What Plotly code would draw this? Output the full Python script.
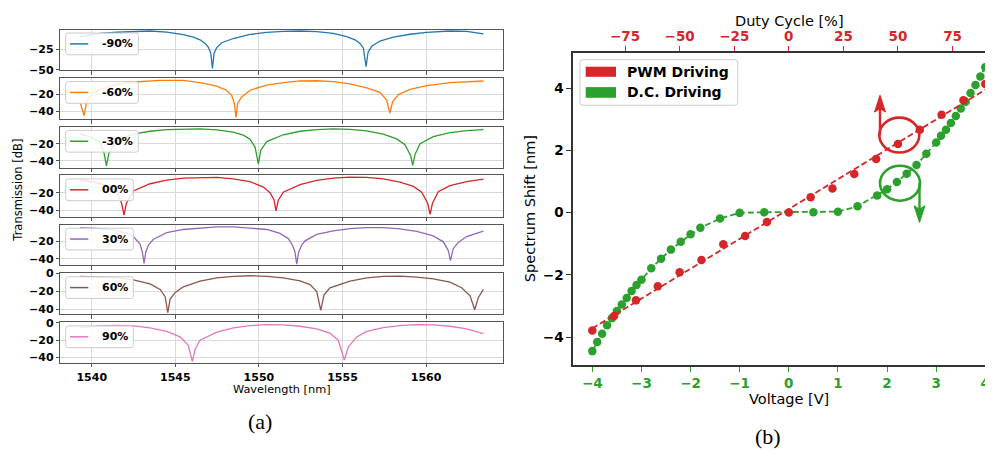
import numpy as np
import plotly.graph_objects as go

# the page body adds an 8 px margin, so the figure is 8 px smaller and all
# reference pixel positions are shifted by 8 px
OFF = 8
W, H = 993 - OFF, 454 - OFF
FONT = "DejaVu Sans"

# ---------------- panel (a): transmission spectra ----------------
labels_a = ["-90%", "-60%", "-30%", "00%", "30%", "60%", "90%"]
colors_a = ["#1f77b4", "#ff7f0e", "#2ca02c", "#d62728", "#9467bd", "#8c564b", "#e377c2"]

wl_m90 = [1539.30, 1540.50, 1541.50, 1542.49, 1543.49, 1544.49, 1545.48, 1546.08, 1546.48, 1546.78,
          1546.98, 1547.12, 1547.22, 1547.32, 1547.48, 1547.78, 1548.47, 1549.47, 1550.47, 1551.46,
          1552.46, 1553.46, 1554.45, 1555.25, 1555.75, 1556.05, 1556.25, 1556.41, 1556.53, 1556.75,
          1557.24, 1558.04, 1559.04, 1560.04, 1561.43, 1562.43, 1563.43]
db_m90 = [-10.0, -6.0, -4.6, -3.5, -3.1, -4.3, -7.4, -10.5, -13.7, -18.0,
          -22.7, -29.7, -48.0, -29.7, -23.0, -17.2, -12.1, -7.2, -4.8, -3.5,
          -3.1, -3.9, -5.9, -9.8, -13.7, -18.0, -23.8, -46.1, -28.5, -21.5,
          -15.2, -10.5, -7.0, -4.7, -3.1, -3.5, -6.6]

wl_m60 = [1539.32, 1539.54, 1539.70, 1540.00, 1540.50, 1541.50, 1542.50, 1544.09, 1545.48, 1546.48,
          1547.48, 1548.07, 1548.37, 1548.53, 1548.63, 1548.73, 1548.97, 1549.47, 1550.47, 1551.46,
          1552.46, 1553.46, 1554.45, 1555.45, 1556.45, 1557.24, 1557.64, 1557.84, 1558.00, 1558.34,
          1559.04, 1560.04, 1561.43, 1562.43, 1563.43]
db_m60 = [-30.0, -45.0, -28.0, -20.0, -14.0, -8.0, -5.0, -3.1, -3.1, -5.8,
          -10.0, -15.0, -20.8, -30.4, -47.3, -30.4, -22.7, -14.8, -8.7, -5.8,
          -3.8, -3.5, -4.6, -7.3, -11.9, -17.3, -26.5, -41.9, -28.5, -20.0,
          -13.8, -9.2, -5.8, -4.6, -3.8]

wl_m30 = [1539.30, 1540.00, 1540.50, 1540.74, 1540.88, 1541.02, 1541.50, 1542.20, 1542.73, 1543.49,
          1544.49, 1545.48, 1546.48, 1547.48, 1548.47, 1549.07, 1549.47, 1549.77, 1549.97, 1550.11,
          1550.47, 1551.46, 1552.46, 1553.46, 1554.45, 1555.45, 1556.45, 1557.44, 1558.24, 1558.74,
          1559.08, 1559.20, 1559.34, 1559.64, 1560.43, 1561.43, 1562.43, 1563.43]
db_m30 = [-8.5, -12.5, -18.0, -31.3, -45.7, -31.3, -17.0, -10.5, -7.9, -5.3,
          -3.4, -2.6, -2.6, -3.8, -6.4, -9.8, -14.7, -23.8, -43.8, -27.5,
          -17.4, -9.4, -5.3, -3.4, -2.6, -3.0, -4.9, -8.7, -14.3, -21.1,
          -34.0, -45.3, -32.5, -20.0, -11.7, -6.8, -4.5, -3.4]

wl_00 = [1539.30, 1540.00, 1540.80, 1541.50, 1541.79, 1541.93, 1542.07, 1542.49, 1543.49, 1544.49,
         1545.48, 1546.48, 1547.48, 1548.47, 1549.47, 1550.27, 1550.67, 1550.91, 1551.02, 1551.16,
         1551.46, 1552.46, 1553.46, 1554.45, 1555.45, 1556.45, 1557.44, 1558.44, 1559.24, 1559.74,
         1560.10, 1560.24, 1560.38, 1560.73, 1561.43, 1562.43, 1563.43]
db_00 = [-5.7, -7.5, -11.0, -18.0, -32.5, -45.7, -32.5, -18.1, -9.8, -5.7,
         -3.4, -2.6, -2.6, -4.2, -7.5, -13.6, -20.0, -28.7, -40.8, -28.7,
         -19.5, -10.8, -6.0, -3.4, -2.3, -2.6, -4.2, -7.9, -12.8, -19.5,
         -32.5, -44.9, -32.5, -19.0, -12.0, -7.5, -4.5]

wl_30 = [1539.30, 1540.50, 1541.50, 1542.09, 1542.49, 1542.89, 1543.03, 1543.13, 1543.23, 1543.39,
         1543.69, 1544.49, 1545.48, 1546.48, 1547.48, 1548.47, 1549.47, 1550.47, 1551.26, 1551.76,
         1552.02, 1552.16, 1552.26, 1552.38, 1552.56, 1552.76, 1553.46, 1554.45, 1555.45, 1556.45,
         1557.44, 1558.44, 1559.44, 1560.43, 1561.03, 1561.33, 1561.46, 1561.62, 1561.92, 1562.43,
         1563.43]
db_30 = [-4.1, -5.2, -7.4, -10.7, -14.4, -23.0, -32.2, -45.2, -32.2, -24.1,
         -17.4, -10.0, -6.3, -4.4, -3.3, -3.3, -4.4, -6.3, -10.7, -16.7,
         -24.8, -32.2, -45.9, -32.2, -24.1, -19.3, -11.9, -7.8, -5.2, -4.1,
         -4.1, -5.6, -8.5, -13.7, -20.4, -30.4, -41.9, -28.5, -21.1, -14.4,
         -8.1]

wl_60 = [1539.30, 1540.50, 1541.50, 1542.49, 1543.49, 1544.09, 1544.39, 1544.55, 1544.69, 1544.98,
         1545.48, 1546.48, 1547.48, 1548.47, 1549.47, 1550.47, 1551.46, 1552.46, 1553.06, 1553.46,
         1553.70, 1553.90, 1554.25, 1555.45, 1556.45, 1557.44, 1558.44, 1559.44, 1560.43, 1561.43,
         1562.13, 1562.63, 1562.91, 1563.13, 1563.43]
db_60 = [-3.2, -3.6, -4.7, -7.2, -11.5, -17.7, -25.9, -43.6, -28.5, -21.3,
         -14.8, -8.6, -5.0, -3.2, -2.5, -3.2, -5.0, -8.3, -12.3, -20.2,
         -41.1, -23.8, -15.9, -8.6, -5.0, -3.2, -2.9, -4.0, -6.1, -9.7,
         -15.9, -24.9, -40.4, -26.7, -17.7]

wl_90 = [1539.30, 1540.50, 1541.50, 1542.49, 1543.49, 1544.49, 1545.28, 1545.78, 1546.02, 1546.18,
         1546.48, 1547.48, 1548.47, 1549.47, 1550.47, 1551.46, 1552.46, 1553.46, 1554.25, 1554.75,
         1555.11, 1555.35, 1555.85, 1556.45, 1557.44, 1558.44, 1559.44, 1560.43, 1561.43, 1562.43,
         1563.43]
db_90 = [-5.6, -3.7, -3.0, -3.7, -6.0, -10.1, -16.4, -26.2, -44.9, -30.7,
         -20.2, -10.8, -6.0, -3.4, -2.2, -2.6, -4.1, -7.1, -12.0, -20.2,
         -43.0, -27.7, -16.4, -10.1, -5.6, -3.4, -2.2, -2.6, -4.1, -7.1,
         -12.7]

spectra_wl = [wl_m90, wl_m60, wl_m30, wl_00, wl_30, wl_60, wl_90]
spectra_db = [db_m90, db_m60, db_m30, db_00, db_30, db_60, db_90]

wl_ticks = [1540, 1545, 1550, 1555, 1560]
db_ticks = [[-50, -25], [-40, -20], [-40, -20], [-40, -20], [-40, -20], [-40, -20, 0], [-40, -20, 0]]

# ---------------- panel (b): spectrum shift ----------------
pwm_duty = [-90, -80, -70, -60, -50, -40, -30, -20, -10, 0, 10, 20, 30, 40, 50, 60, 70, 80, 90]
pwm_shift = [-3.79, -3.32, -2.82, -2.37, -1.92, -1.52, -1.02, -0.75, -0.30, 0.00,
             0.49, 0.77, 1.24, 1.72, 2.20, 2.66, 3.14, 3.61, 4.13]

dc_volt = [-4.0, -3.9, -3.8, -3.7, -3.6, -3.5, -3.4, -3.3, -3.2, -3.1, -3.0, -2.8, -2.6, -2.4,
           -2.2, -2.0, -1.8, -1.4, -1.0, -0.5, 0.5, 1.0, 1.4, 1.8, 2.0, 2.2, 2.4, 2.6, 2.8, 3.0,
           3.1, 3.2, 3.3, 3.4, 3.5, 3.6, 3.7, 3.8, 3.9, 4.0]
dc_shift = [-4.45, -4.16, -3.89, -3.62, -3.39, -3.16, -2.95, -2.74, -2.52, -2.33, -2.16, -1.79,
            -1.48, -1.19, -0.94, -0.70, -0.49, -0.19, -0.01, 0.01, 0.01, 0.03, 0.20, 0.55, 0.75,
            0.98, 1.25, 1.53, 1.89, 2.25, 2.47, 2.66, 2.88, 3.10, 3.34, 3.56, 3.84, 4.10, 4.37, 4.67]

volt_ticks = [-4, -3, -2, -1, 0, 1, 2, 3, 4]
duty_ticks = [-75, -50, -25, 0, 25, 50, 75]
shift_ticks = [-4, -2, 0, 2, 4]

RED = "#d62728"
GREEN = "#2ca02c"


def px(x):
    return (x - OFF) / W


def py(y):
    return 1 - (y - OFF) / H


fig = go.Figure()
layout = dict(
    width=W, height=H, margin=dict(l=0, r=0, t=0, b=0),
    paper_bgcolor="white", plot_bgcolor="white", showlegend=False,
    font=dict(family=FONT, color="black"),
)

# left panel geometry (reference pixels)
LX0, LX1 = 60.3, 503.3
tops = [24, 74, 124.3, 174.3, 225, 275, 325.7]
bots = [65.7, 116.3, 166.3, 217, 267, 317.3, 367.3]
yranges = [[-50.05, -1.3], [-49.2, -0.35], [-47.95, -0.23], [-47.8, -0.3],
           [-47.4, -0.8], [-45.4, 0.3], [-46.3, 0.3]]

FRAME = "#555555"
GRID = "#d9d9d9"
tickfont_a = dict(family=FONT, size=11, color="black", weight="bold")

for i in range(7):
    n = i + 1
    fig.add_trace(go.Scatter(x=spectra_wl[i], y=spectra_db[i], mode="lines",
                             line=dict(color=colors_a[i], width=1.3),
                             xaxis=f"x{n}", yaxis=f"y{n}", hoverinfo="skip"))
    layout[f"xaxis{n}"] = dict(
        domain=[px(LX0), px(LX1)], range=[1538.12, 1564.62], anchor=f"y{n}",
        tickvals=wl_ticks, showticklabels=(n == 7), ticks="outside", ticklen=3.5,
        tickcolor=FRAME, showgrid=True, gridcolor=GRID, gridwidth=1, zeroline=False,
        showline=True, linecolor=FRAME, linewidth=1, mirror=True, tickfont=tickfont_a,
    )
    layout[f"yaxis{n}"] = dict(
        domain=[py(bots[i]), py(tops[i])], range=yranges[i], anchor=f"x{n}",
        tickvals=db_ticks[i], ticks="outside", ticklen=3.5, tickcolor=FRAME,
        showgrid=True, gridcolor=GRID, gridwidth=1, zeroline=False,
        showline=True, linecolor=FRAME, linewidth=1, mirror=True, tickfont=tickfont_a,
    )

# right panel
RX0, RY0, RY1 = 573, 48, 370
xr = [-4.393, 4.157]
fig.add_trace(go.Scatter(x=dc_volt, y=dc_shift, mode="lines+markers",
                         line=dict(color=GREEN, width=1.8, dash="6px,3px"),
                         marker=dict(size=8.5, color=GREEN),
                         xaxis="x8", yaxis="y8", hoverinfo="skip"))
fit = np.polyfit(pwm_duty, pwm_shift, 1)
fit_x = [min(pwm_duty), max(pwm_duty)]
fig.add_trace(go.Scatter(x=fit_x, y=np.polyval(fit, fit_x), mode="lines",
                         line=dict(color=RED, width=1.8, dash="6px,3px"),
                         xaxis="x9", yaxis="y8", hoverinfo="skip"))
fig.add_trace(go.Scatter(x=pwm_duty, y=pwm_shift, mode="markers",
                         marker=dict(size=8.5, color=RED),
                         xaxis="x9", yaxis="y8", hoverinfo="skip"))

SP = "#333333"
layout["xaxis8"] = dict(
    domain=[px(RX0), 1.0], range=xr, anchor="y8", tickvals=volt_ticks,
    ticks="outside", ticklen=5, tickcolor=GREEN, tickwidth=1.2,
    tickfont=dict(family=FONT, size=13.5, color=GREEN, weight="bold"),
    showline=True, linecolor=SP, linewidth=1.5, showgrid=False, zeroline=False,
)
layout["xaxis9"] = dict(
    overlaying="x8", side="top", anchor="y8", range=[xr[0] * 22.5, xr[1] * 22.5],
    tickvals=duty_ticks, ticks="outside", ticklen=5, tickcolor=RED, tickwidth=1.2,
    tickfont=dict(family=FONT, size=13.5, color=RED, weight="bold"),
    showline=True, linecolor=SP, linewidth=1.5, showgrid=False, zeroline=False,
)
layout["yaxis8"] = dict(
    domain=[py(RY1), py(RY0)], range=[-4.91, 5.13], anchor="x8", tickvals=shift_ticks,
    ticks="outside", ticklen=5, tickcolor=SP, tickwidth=1.2,
    tickfont=dict(family=FONT, size=13.5, color="black", weight="bold"),
    showline=True, linecolor=SP, linewidth=1.5, showgrid=False, zeroline=False,
)

shapes = []
annotations = []


def rrect(x0, y0, x1, y1, r=2.5):
    pts = [("M", x0 + r, y0), ("L", x1 - r, y0), ("Q", x1, y0, x1, y0 + r),
           ("L", x1, y1 - r), ("Q", x1, y1, x1 - r, y1), ("L", x0 + r, y1),
           ("Q", x0, y1, x0, y1 - r), ("L", x0, y0 + r), ("Q", x0, y0, x0 + r, y0)]
    s = ""
    for p in pts:
        if p[0] == "Q":
            s += f"Q{px(p[1]):.5f},{py(p[2]):.5f} {px(p[3]):.5f},{py(p[4]):.5f} "
        else:
            s += f"{p[0]}{px(p[1]):.5f},{py(p[2]):.5f} "
    return s + "Z"


def poly(points):
    s = "M" + " L".join(f"{px(a):.5f},{py(b):.5f}" for a, b in points)
    return s + " Z"


def text(x, y, t, size, color="black", bold=False, anchor="center", angle=0, family=FONT):
    annotations.append(dict(
        x=px(x), y=py(y), xref="paper", yref="paper", text=t, showarrow=False,
        xanchor=anchor, yanchor="middle", textangle=angle, borderpad=0,
        font=dict(family=family, size=size, color=color, weight="bold" if bold else "normal"),
    ))


# left legends
for i, lab in enumerate(labels_a):
    t = tops[i]
    x1 = 138.3 if lab.startswith("-") else 133.3
    shapes.append(dict(type="path", xref="paper", yref="paper",
                       path=rrect(65.7, t + 3.6, x1, t + 26.0),
                       line=dict(color="#cccccc", width=1), fillcolor="rgba(255,255,255,0.85)"))
    yc = t + 14.8
    shapes.append(dict(type="line", xref="paper", yref="paper", x0=px(70), x1=px(88.3),
                       y0=py(yc), y1=py(yc), line=dict(color=colors_a[i], width=1.5)))
    text(100.5, yc, lab, 11, bold=True, anchor="left")

# right legend
shapes.append(dict(type="path", xref="paper", yref="paper", path=rrect(580, 55, 737.7, 102, 3),
                   line=dict(color="#cccccc", width=1), fillcolor="rgba(255,255,255,0.85)"))
for (y0, y1, col, lab) in [(62.3, 72.7, RED, "PWM Driving"), (83.3, 94.3, GREEN, "D.C. Driving")]:
    shapes.append(dict(type="rect", xref="paper", yref="paper", x0=px(585.7), x1=px(616),
                       y0=py(y1), y1=py(y0), line=dict(width=0), fillcolor=col))
    text(626, (y0 + y1) / 2, lab, 14, bold=True, anchor="left")

# circles and arrows
for (cx, cy, col) in [(899.3, 132.7, RED), (900.0, 182.3, GREEN)]:
    shapes.append(dict(type="circle", xref="paper", yref="paper",
                       x0=px(cx - 20), x1=px(cx + 20), y0=py(cy + 18), y1=py(cy - 18),
                       line=dict(color=col, width=2.6)))
shapes.append(dict(type="line", xref="paper", yref="paper", x0=px(880), x1=px(880),
                   y0=py(133), y1=py(104), line=dict(color=RED, width=2.4)))
shapes.append(dict(type="path", xref="paper", yref="paper",
                   path=poly([(880, 91.7), (874.5, 109), (880, 105.5), (885.5, 109)]),
                   line=dict(color=RED, width=1), fillcolor=RED))
shapes.append(dict(type="line", xref="paper", yref="paper", x0=px(919.5), x1=px(919.5),
                   y0=py(182), y1=py(210), line=dict(color=GREEN, width=2.4)))
shapes.append(dict(type="path", xref="paper", yref="paper",
                   path=poly([(919.5, 222.7), (914, 205.5), (919.5, 209), (925, 205.5)]),
                   line=dict(color=GREEN, width=1), fillcolor=GREEN))

# axis titles and panel labels
text(18, 190, "Transmission [dB]", 11.5, angle=-90)
text(282, 395, "Wavelength [nm]", 11.3)
text(530, 209, "Spectrum Shift [nm]", 14.5, angle=-90)
text(789, 405, "Voltage [V]", 14.5)
text(789, 15.7, "Duty Cycle [%]", 14.5)
text(260, 428, "(a)", 22, family="Liberation Serif")
text(768, 443, "(b)", 22, family="Liberation Serif")

layout["shapes"] = shapes
layout["annotations"] = annotations
fig.update_layout(**layout)
fig.write_html("out.html")
